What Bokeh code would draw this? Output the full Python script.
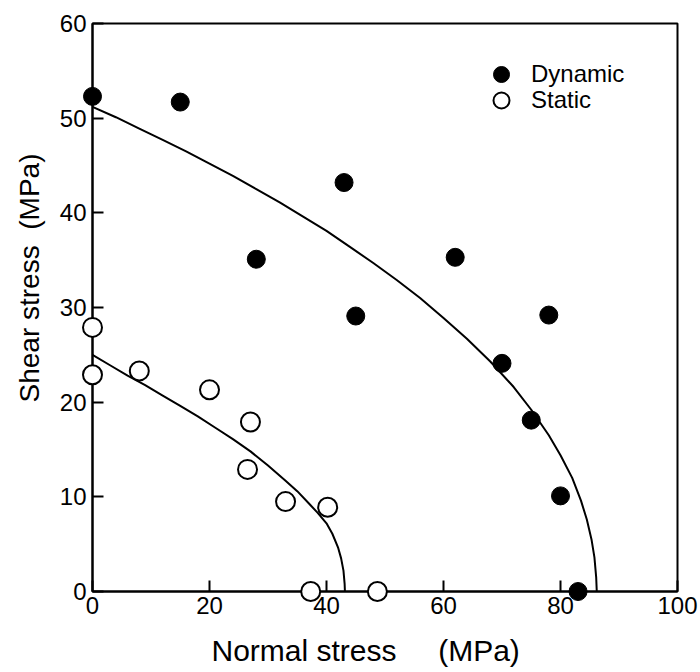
from bokeh.plotting import figure
from bokeh.models import Range1d, FixedTicker, Legend, LegendItem, Title
from bokeh.embed import file_html
from bokeh.resources import INLINE

# --- data ---
dyn_sigma = [0, 15, 28, 43, 45, 62, 70, 75, 78, 80, 83]
dyn_tau = [52.3, 51.7, 35.1, 43.2, 29.1, 35.3, 24.1, 18.1, 29.2, 10.1, 0]

sta_sigma = [0, 0, 8, 20, 27, 26.5, 33, 40.2, 37.3, 48.7]
sta_tau = [27.9, 22.9, 23.3, 21.3, 17.9, 12.9, 9.5, 8.9, 0, 0]

dyn_curve_sigma = [0, 4, 8, 12, 16, 20, 24, 28, 32, 36, 40, 44, 48, 52, 56, 60,
                   64, 68, 72, 75, 78, 80, 82, 83.5, 84.5, 85.3, 85.8, 86.1, 86.2]
dyn_curve_tau = [51.2, 50.1, 48.9, 47.7, 46.5, 45.2, 43.9, 42.5, 41.1, 39.6, 38.1, 36.4, 34.7, 32.9, 31.0, 28.9,
                 26.7, 24.3, 21.6, 19.2, 16.5, 14.4, 12.0, 9.6, 7.6, 5.5, 3.6, 1.5, 0]

sta_curve_sigma = [0, 3, 6, 9, 12, 15, 18, 21, 24, 27, 30, 33, 35, 37, 38.5, 40, 41, 42, 42.5, 42.9, 43.1, 43.15]
sta_curve_tau = [25.0, 23.9, 22.8, 21.8, 20.7, 19.6, 18.5, 17.3, 16.1, 14.8, 13.3, 11.7, 10.6, 9.3, 8.3, 7.2,
                 6.1, 4.6, 3.5, 2.2, 0.8, 0]

x_ticks = [0, 20, 40, 60, 80, 100]
y_ticks = [0, 10, 20, 30, 40, 50, 60]

x_title = "Normal stress" + "\u00a0" * 5 + "(MPa)"
y_title = "Shear stress" + "\u00a0" * 2 + "(MPa)"

FONT = "Liberation Sans"

p = figure(frame_width=585, frame_height=568, output_backend="svg", toolbar_location=None,
           x_range=Range1d(0, 100), y_range=Range1d(0, 60),
           min_border_left=92, min_border_right=21, min_border_top=23, min_border_bottom=80)

p.grid.visible = False
p.background_fill_color = "white"
p.border_fill_color = "white"
p.outline_line_color = "black"
p.outline_line_width = 2
p.outline_line_alpha = 1

for ax in (p.xaxis[0], p.yaxis[0]):
    ax.axis_line_width = 2
    ax.axis_line_color = "black"
    ax.major_tick_in = 11
    ax.major_tick_out = 0
    ax.major_tick_line_width = 2
    ax.major_tick_line_color = "black"
    ax.minor_tick_line_color = None
    ax.major_label_text_font = FONT
    ax.major_label_text_font_size = "24px"
    ax.major_label_text_color = "black"

p.xaxis.ticker = FixedTicker(ticks=x_ticks)
p.yaxis.ticker = FixedTicker(ticks=y_ticks)
p.xaxis.major_label_standoff = 5
p.yaxis.major_label_standoff = 6

# axis titles as side titles (allow offset along the axis like the reference)
p.add_layout(Title(text=y_title, align="left", offset=189, standoff=23,
                   text_font=FONT, text_font_size="28px", text_font_style="normal",
                   text_color="black"), "left")
p.add_layout(Title(text=x_title, align="left", offset=119, standoff=30,
                   text_font=FONT, text_font_size="30px", text_font_style="normal",
                   text_line_height=0.8, text_color="black"), "below")

p.line(dyn_curve_sigma, dyn_curve_tau, line_color="black", line_width=2)
p.line(sta_curve_sigma, sta_curve_tau, line_color="black", line_width=2)

r_dyn = p.scatter(dyn_sigma, dyn_tau, marker="circle", size=18,
                  fill_color="black", line_color="black", level="overlay")
r_sta = p.scatter(sta_sigma, sta_tau, marker="circle", size=19,
                  fill_color="white", line_color="black", line_width=2, level="overlay")

legend_style = dict(glyph_width=40, glyph_height=40, padding=0, margin=0,
                    border_line_color=None, background_fill_alpha=0,
                    label_text_font=FONT, label_text_font_size="24px", label_standoff=10,
                    label_text_color="black")
legend_dyn = Legend(items=[LegendItem(label="Dynamic", renderers=[r_dyn])],
                    location=(389, 497), **legend_style)
legend_sta = Legend(items=[LegendItem(label="Static", renderers=[r_sta])],
                    location=(389, 471), **legend_style)
p.add_layout(legend_dyn)
p.add_layout(legend_sta)

open("out.html", "w").write(file_html(p, INLINE))
